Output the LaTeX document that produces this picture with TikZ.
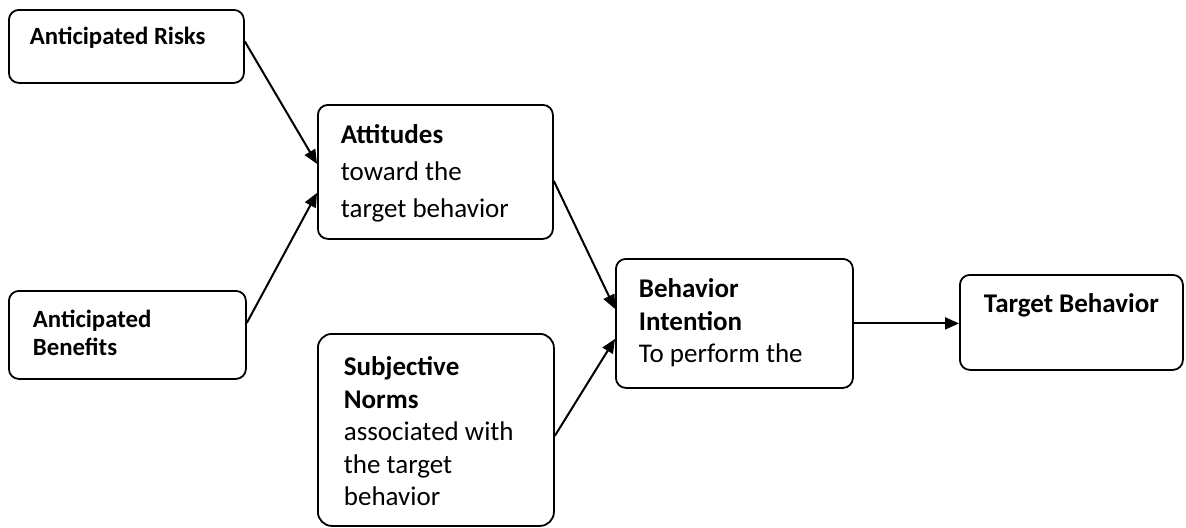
\documentclass[tikz,border=0pt]{standalone}
\usepackage{fontspec}
\setmainfont{Carlito}
\usepackage{tikz}
\usetikzlibrary{arrows.meta,calc,positioning}

\begin{document}
\begin{tikzpicture}[x=0.5pt,y=-0.5pt,>={Triangle[length=7pt,width=6pt]},
  box/.style={draw,line width=0.9pt,rounded corners=5pt,anchor=north west,inner sep=0pt,align=flush left,font=\fontsize{13.5}{16.25}\selectfont},
  pad/.style={execute at begin node={\leftskip=#1\relax}},
  link/.style={->,line width=1pt}]
\useasboundingbox (0,0) rectangle (1186,527);
% left column
\node[box,pad=10.5pt,text width=117.5pt,text height=17.5pt,text depth=19pt,font=\fontsize{12.4}{14}\selectfont] (risks) at (8,9) {\textbf{Anticipated Risks}};
\node[box,pad=12pt,text width=118.5pt,text height=18.5pt,text depth=25.5pt,font=\fontsize{12.4}{14}\selectfont] (benefits) at (8,290) {\textbf{Anticipated}\\\textbf{Benefits}};
% middle column
\node[box,pad=11.5pt,text width=117.5pt,text height=19.5pt,text depth=47.5pt,font=\fontsize{13.5}{18.5}\selectfont] (attitudes) at (317,104) {\textbf{Attitudes}\\toward the\\target behavior};
\node[box,pad=13pt,text width=118pt,text height=21pt,text depth=75pt,rounded corners=7pt] (norms) at (317,333) {\textbf{Subjective}\\\textbf{Norms}\\associated with\\the target\\behavior};
% right part
\node[box,pad=11.5pt,text width=118.5pt,text height=19.5pt,text depth=45pt] (intention) at (615,258) {\textbf{Behavior}\\\textbf{Intention}\\To perform the};
\node[box,pad=12pt,text width=111.5pt,text height=19pt,text depth=28.5pt] (target) at (959,274) {\textbf{Target Behavior}};
% links
\draw[link] ($(risks.east)+(0,-5)$) -- ($(attitudes.west)+(0,-8)$);
\draw[link] ($(benefits.east)+(0,-12)$) -- ($(attitudes.west)+(0,21)$);
\draw[link] ($(attitudes.east)+(0,9)$) -- ($(intention.west)+(0,-14.5)$);
\draw[link] ($(norms.east)+(0,6)$) -- ($(intention.west)+(0,15.5)$);
\draw[link] (intention.east) -- (intention.east -| target.west);
\end{tikzpicture}
\end{document}
